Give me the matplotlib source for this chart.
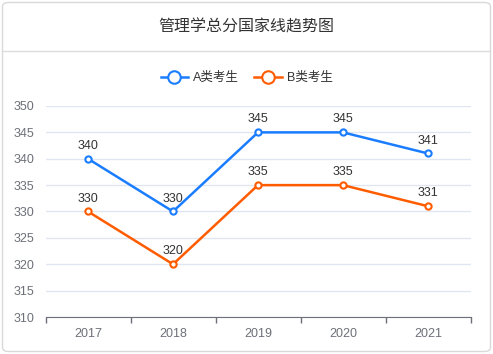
import matplotlib.pyplot as plt
from matplotlib.patches import FancyBboxPatch
from matplotlib.lines import Line2D

plt.rcParams['font.family'] = ['Liberation Sans', 'Noto Sans CJK SC', 'DejaVu Sans']

# 数据
years = ['2017', '2018', '2019', '2020', '2021']
a_scores = [340, 330, 345, 345, 341]
b_scores = [330, 320, 335, 335, 331]
series_names = ['A类考生', 'B类考生']
title = '管理学总分国家线趋势图'

blue = '#1a7dff'
orange = '#ff5c00'

W, H = 493, 354
fig = plt.figure(figsize=(W / 100, H / 100), dpi=100)

# 卡片边框
card = FancyBboxPatch((2.5 / W, 2.5 / H), (W - 5) / W, (H - 5) / H,
                      boxstyle='round,pad=0,rounding_size=0.012',
                      transform=fig.transFigure, facecolor='white',
                      edgecolor='#d9d9d9', linewidth=1.0, zorder=-2)
fig.patches.append(card)
fig.add_artist(Line2D([3 / W, (W - 3) / W], [1 - 51 / H, 1 - 51 / H],
                      transform=fig.transFigure, color='#dcdcdc', linewidth=1.0, zorder=-1))
fig.text(0.5, 1 - 27 / H, title, ha='center', va='center', fontsize=11.5, color='#333333')

ax = fig.add_axes([45.5 / W, 1 - 317 / H, 425 / W, 211 / H])
ax.patch.set_alpha(0)
x = range(len(years))
ax.plot(x, a_scores, color=blue, linewidth=1.8, marker='o', markersize=4.5,
        markerfacecolor='white', markeredgewidth=1.5, label=series_names[0], zorder=3)
ax.plot(x, b_scores, color=orange, linewidth=1.8, marker='o', markersize=4.5,
        markerfacecolor='white', markeredgewidth=1.5, label=series_names[1], zorder=3)

for xi, v in zip(x, a_scores):
    ax.annotate(str(v), (xi, v), xytext=(0, 5), textcoords='offset points',
                ha='center', va='bottom', fontsize=9, color='#333333')
for xi, v in zip(x, b_scores):
    ax.annotate(str(v), (xi, v), xytext=(0, 5), textcoords='offset points',
                ha='center', va='bottom', fontsize=9, color='#333333')

ax.set_xlim(-0.5, len(years) - 0.5)
ax.set_ylim(310, 350)
ax.set_yticks(range(310, 351, 5))
ax.set_xticks(list(x))
ax.set_xticklabels(years)
ax.set_xticks([i - 0.5 for i in range(len(years) + 1)], minor=True)
ax.tick_params(axis='x', which='major', length=0, pad=8, labelsize=9, labelcolor='#6e7079')
ax.tick_params(axis='x', which='minor', length=4, color='#6e7079', width=1)
ax.tick_params(axis='y', length=0, pad=8, labelsize=9, labelcolor='#6e7079')
ax.grid(axis='y', color='#e0e6f1', linewidth=1)
ax.set_axisbelow(True)
for s in ['top', 'right', 'left']:
    ax.spines[s].set_visible(False)
ax.spines['bottom'].set_color('#6e7079')

leg = fig.legend(loc='center', bbox_to_anchor=(0.5, 1 - 78 / H), ncol=2, frameon=False,
                 fontsize=9, handlelength=2.2, columnspacing=1.2, handletextpad=0.4,
                 markerscale=2.0)
for t in leg.get_texts():
    t.set_color('#333333')

fig.savefig('out.png', dpi=100)
